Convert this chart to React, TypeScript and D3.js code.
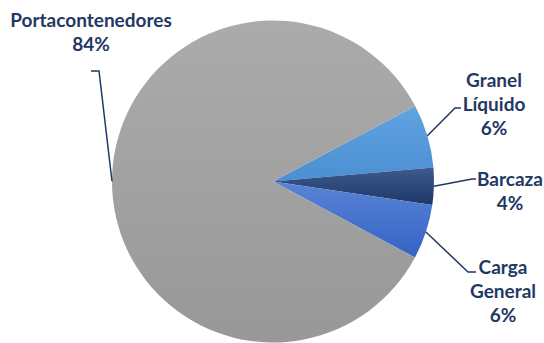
import React from "react";
import * as d3 from "d3";

const categories = ["Granel Líquido", "Barcaza", "Carga General", "Portacontenedores"];
const values = [6.4, 3.7, 5.5, 84.4];
const labelLines = [["Granel", "Líquido"], ["Barcaza"], ["Carga", "General"], ["Portacontenedores"]];

const W = 544, H = 343;
const CX = 273, CY = 181.5, R = 161;
const START = (62 * Math.PI) / 180;

const grads = [
  { top: "#62a3e0", bottom: "#4a8fd2" },
  { top: "#3d5a8e", bottom: "#1f3767" },
  { top: "#5883d6", bottom: "#3563c4" },
  { top: "#ababab", bottom: "#989898" },
];

// label layout: text center x, first baseline, elbow point, elbow end
const layout = [
  { tx: 494, ty: 87, elbow: [455, 108], end: [461, 108] },
  { tx: 510, ty: 186, elbow: [472, 179], end: [476, 179] },
  { tx: 503, ty: 274, elbow: [468, 272], end: [476, 272] },
  { tx: 91, ty: 27, elbow: [99, 71], end: [91, 71] },
];

const TEXT = "#1f3864";

export default function App() {
  const pie = d3.pie<number>().sort(null).startAngle(START).endAngle(START + 2 * Math.PI);
  const arcs = pie(values);
  const arc = d3.arc<d3.PieArcDatum<number>>().innerRadius(0).outerRadius(R);
  const total = d3.sum(values);

  return (
    <svg width={W} height={H} style={{ position: "absolute", left: 0, top: 0 }}>
      <defs>
        {grads.map((g, i) => (
          <linearGradient key={i} id={`g${i}`} x1="0" y1="0" x2="0" y2="1">
            <stop offset="0" stopColor={g.top} />
            <stop offset="1" stopColor={g.bottom} />
          </linearGradient>
        ))}
      </defs>
      <g transform={`translate(${CX},${CY})`}>
        {arcs.map((a, i) => (
          <path key={i} d={arc(a) || ""} fill={`url(#g${i})`} />
        ))}
      </g>
      {arcs.map((a, i) => {
        const mid = (a.startAngle + a.endAngle) / 2;
        const px = CX + R * Math.sin(mid);
        const py = CY - R * Math.cos(mid);
        const L = layout[i];
        const pct = `${Math.round((values[i] / total) * 100)}%`;
        const lines = [...labelLines[i], pct];
        return (
          <g key={i}>
            <polyline
              points={`${px},${py} ${L.elbow[0]},${L.elbow[1]} ${L.end[0]},${L.end[1]}`}
              fill="none"
              stroke={TEXT}
              strokeWidth={1.5}
            />
            <text
              x={L.tx}
              y={L.ty}
              textAnchor="middle"
              fill={TEXT}
              fontFamily="Lato, 'Open Sans', sans-serif"
              fontWeight="bold"
              fontSize={19}
            >
              {lines.map((t, j) => (
                <tspan key={j} x={L.tx} dy={j === 0 ? 0 : 23.8}>
                  {t}
                </tspan>
              ))}
            </text>
          </g>
        );
      })}
    </svg>
  );
}
